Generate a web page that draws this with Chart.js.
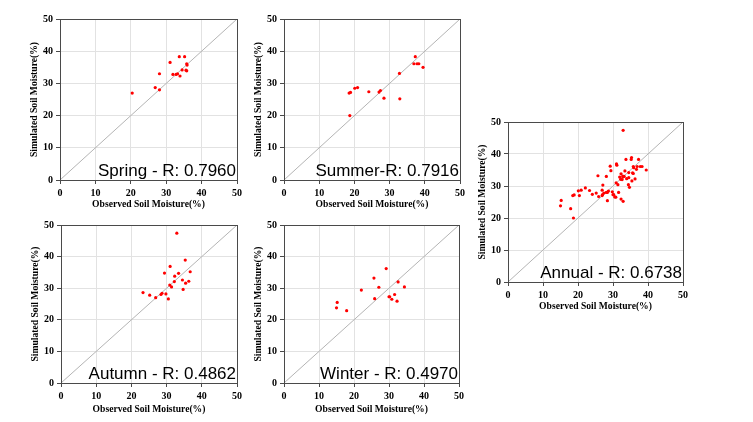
<!DOCTYPE html>
<html>
<head>
<meta charset="utf-8">
<script src="https://cdn.jsdelivr.net/npm/chart.js@4/dist/chart.umd.min.js"></script>
<style>
  html, body { margin: 0; padding: 0; background: #fff; }
  body { width: 753px; height: 422px; position: relative; overflow: hidden; }
  canvas { position: absolute; }
</style>
</head>
<body>
<canvas id="spring"></canvas>
<canvas id="summer"></canvas>
<canvas id="autumn"></canvas>
<canvas id="winter"></canvas>
<canvas id="annual"></canvas>
<script>
// ---- data (observed %, simulated %) ----
const springObs = [20.4, 26.9, 28.1, 28.1, 31.1, 31.9, 32.8, 33.2, 33.7, 33.9, 34.5, 35.2, 35.8, 35.9, 35.6, 35.8];
const springSim = [27.0, 28.7, 33.0, 28.0, 36.5, 32.8, 32.8, 33.0, 38.3, 32.3, 34.2, 38.3, 36.1, 35.7, 34.1, 33.9];

const summerObs = [18.5, 18.9, 18.7, 20.1, 20.9, 24.1, 27.0, 27.4, 28.4, 32.8, 32.9, 36.9, 37.3, 37.8, 38.3, 39.5];
const summerSim = [27.0, 27.2, 20.0, 28.5, 28.7, 27.4, 27.3, 27.8, 25.4, 33.1, 25.2, 36.1, 38.3, 36.1, 36.1, 35.0];

const autumnObs = [23.3, 25.2, 26.9, 28.4, 28.7, 29.4, 29.8, 30.5, 30.9, 31.0, 31.4, 32.2, 32.3, 32.9, 33.4, 34.5, 34.7, 35.3, 35.4, 36.3, 36.7];
const autumnSim = [28.6, 27.8, 27.0, 28.0, 28.4, 34.8, 28.2, 26.6, 31.0, 36.9, 30.4, 32.1, 33.8, 47.4, 34.7, 32.6, 29.6, 38.9, 31.6, 32.2, 35.2];

const winterObs = [15.0, 15.2, 17.9, 22.1, 25.7, 25.9, 27.1, 29.2, 30.0, 30.2, 30.8, 31.6, 32.3, 32.6, 34.4];
const winterSim = [23.8, 25.5, 22.9, 29.4, 33.2, 26.7, 30.3, 36.2, 27.3, 27.3, 26.5, 28.0, 25.9, 32.0, 30.4];

const annualObs = [].concat(springObs, summerObs, autumnObs, winterObs);
const annualSim = [].concat(springSim, summerSim, autumnSim, winterSim);

const axisTicks = [0, 10, 20, 30, 40, 50];
const panelLabels = {
  spring: 'Spring - R: 0.7960',
  summer: 'Summer-R: 0.7916',
  autumn: 'Autumn - R: 0.4862',
  winter: 'Winter - R: 0.4970',
  annual: 'Annual - R: 0.6738'
};
const xTitle = 'Observed Soil Moisture(%)';
const yTitle = 'Simulated Soil Moisture(%)';

// ---- layout (plot area boxes in page pixels) ----
const AXW = 31, PADT = 10, PADR = 10;
const areas = {
  spring: { L: 60, R: 237, T: 19, B: 180, H: 30 },
  summer: { L: 284, R: 460, T: 19, B: 180, H: 30 },
  autumn: { L: 61, R: 237, T: 225, B: 383, H: 32 },
  winter: { L: 284, R: 459, T: 225, B: 383, H: 32 },
  annual: { L: 508, R: 683, T: 122, B: 282, H: 30 }
};

const frameLabelPlugin = {
  id: 'frameLabel',
  afterDraw(chart, args, opts) {
    const { ctx, chartArea: a } = chart;
    ctx.save();
    ctx.strokeStyle = '#4a4a4a';
    ctx.lineWidth = 1;
    ctx.strokeRect(Math.round(a.left) + 0.5, Math.round(a.top) + 0.5,
      Math.round(a.right - a.left), Math.round(a.bottom - a.top));
    ctx.fillStyle = '#000';
    ctx.font = '17px "Liberation Sans", Arial, sans-serif';
    ctx.textAlign = 'right';
    ctx.textBaseline = 'alphabetic';
    ctx.fillText(opts.text, a.right - 1, a.bottom - 4);
    ctx.restore();
  }
};

function fixer(axh) {
  return function (scale) {
    if (scale.isHorizontal()) scale.height = axh; else scale.width = AXW;
    scale.paddingLeft = 0; scale.paddingRight = 0;
    scale.paddingTop = 0; scale.paddingBottom = 0;
  };
}

function axis(titleText, axh) {
  return {
    type: 'linear', min: axisTicks[0], max: axisTicks[axisTicks.length - 1],
    afterFit: fixer(axh),
    afterBuildTicks: (s) => { s.ticks = axisTicks.map(v => ({ value: v })); },
    ticks: { color: '#000', padding: 3,
      font: { family: '"Liberation Serif", "Times New Roman", serif', size: 10, weight: 'bold' } },
    grid: {
      color: (c) => (c.tick && (c.tick.value === 0 || c.tick.value === 50)) ? 'rgba(0,0,0,0)' : '#e2e2e2',
      tickColor: '#4a4a4a', tickLength: 4, lineWidth: 1
    },
    border: { display: false },
    title: { display: true, text: titleText, color: '#000', padding: { top: 0, bottom: 0 },
      font: { family: '"Liberation Serif", "Times New Roman", serif', size: 9.6, weight: 'bold', lineHeight: 1.2 } }
  };
}

function makePanel(id, obs, sim) {
  const a = areas[id];
  const cv = document.getElementById(id);
  const left = a.L - AXW, top = a.T - PADT;
  const w = a.R - left + PADR, h = a.B - top + a.H;
  cv.width = w; cv.height = h;
  cv.style.left = left + 'px'; cv.style.top = top + 'px';
  cv.style.width = w + 'px'; cv.style.height = h + 'px';
  const pts = obs.map((x, i) => ({ x: x, y: sim[i] }));
  new Chart(cv, {
    type: 'scatter',
    data: {
      datasets: [
        { type: 'line', data: [{ x: 0, y: 0 }, { x: 50, y: 50 }], borderColor: '#b4b4b4',
          borderWidth: 1, pointRadius: 0, fill: false, order: 2 },
        { data: pts, backgroundColor: '#ff0000', borderWidth: 0, pointRadius: 1.6, order: 1 }
      ]
    },
    options: {
      responsive: false, animation: false, devicePixelRatio: 1,
      layout: { padding: { left: 0, top: PADT, right: PADR, bottom: 0 } },
      plugins: { legend: { display: false }, tooltip: { enabled: false },
        frameLabel: { text: panelLabels[id] } },
      scales: { x: axis(xTitle, a.H), y: axis(yTitle, a.H) }
    },
    plugins: [frameLabelPlugin]
  });
}

makePanel('spring', springObs, springSim);
makePanel('summer', summerObs, summerSim);
makePanel('autumn', autumnObs, autumnSim);
makePanel('winter', winterObs, winterSim);
makePanel('annual', annualObs, annualSim);
</script>
</body>
</html>
